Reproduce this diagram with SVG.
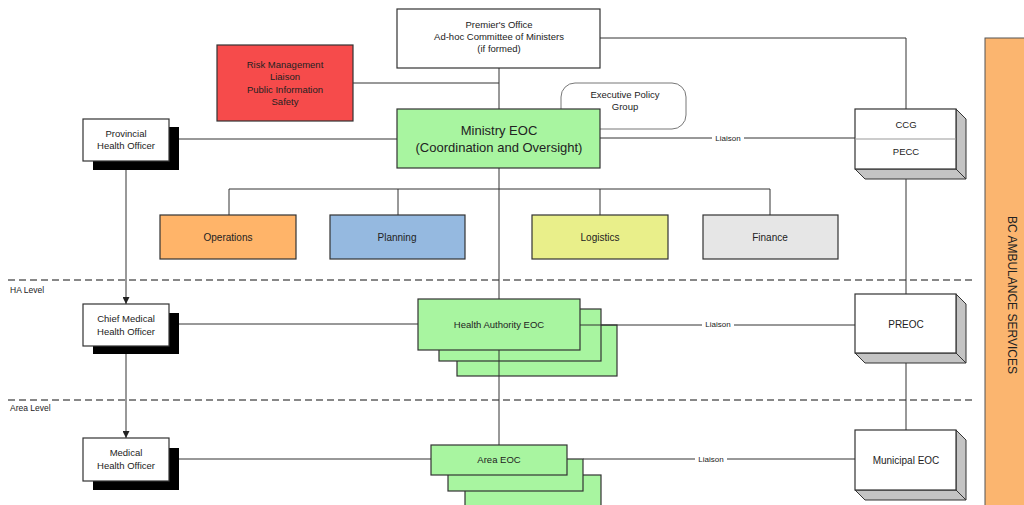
<svg xmlns="http://www.w3.org/2000/svg" width="1024" height="505" viewBox="0 0 1024 505">
<style>
text{font-family:"Liberation Sans",Arial,sans-serif;fill:#222;text-anchor:middle}
.t10{font-size:10px}
.t9{font-size:9.5px}
.t8{font-size:8px}
.box{stroke:#333;stroke-width:1.2}
.ln{stroke:#333;stroke-width:1;fill:none}
.dash{stroke:#111;stroke-width:1;stroke-dasharray:7 4;fill:none}
.side{fill:#c4c4c4;stroke:#333;stroke-width:1}
.grn{fill:#a8f5a0}
.lbl{fill:#fff}
</style>
<defs>
<marker id="arr" viewBox="0 0 10 10" refX="10" refY="5" markerWidth="7" markerHeight="7" orient="auto" markerUnits="userSpaceOnUse">
<path d="M0,0 L10,5 L0,10 z" fill="#222"/>
</marker>
</defs>
<rect width="1024" height="505" fill="#fff"/>

<g id="levels">
<line class="dash" x1="8" y1="280" x2="975" y2="280"/>
<line class="dash" x1="8" y1="400" x2="975" y2="400"/>
<text x="10" y="293" style="text-anchor:start;font-size:8.5px">HA  Level</text>
<text x="10" y="411" style="text-anchor:start;font-size:8.5px">Area Level</text>
</g>

<g id="connectors">
<polyline class="ln" points="600,38 906,38 906,109"/>
<line class="ln" x1="499" y1="68" x2="499" y2="299"/>
<line class="ln" x1="353" y1="83" x2="499" y2="83"/>
<line class="ln" x1="179" y1="139" x2="397" y2="139"/>
<line class="ln" x1="600" y1="138" x2="855" y2="138"/>
<polyline class="ln" points="229,215 229,189 770,189 770,215"/>
<line class="ln" x1="398" y1="189" x2="398" y2="215"/>
<line class="ln" x1="600" y1="189" x2="600" y2="215"/>
<line class="ln" x1="906" y1="169" x2="906" y2="294"/>
<line class="ln" x1="906" y1="353" x2="906" y2="430"/>
<line class="ln" x1="126" y1="170" x2="126" y2="304" marker-end="url(#arr)"/>
<line class="ln" x1="126" y1="354" x2="126" y2="438" marker-end="url(#arr)"/>
<line class="ln" x1="179" y1="324" x2="418" y2="324"/>
<line class="ln" x1="617" y1="325" x2="855" y2="325"/>
<line class="ln" x1="499" y1="376" x2="499" y2="445"/>
<line class="ln" x1="179" y1="459" x2="431" y2="459"/>
<line class="ln" x1="583" y1="459" x2="855" y2="459"/>
<rect class="lbl" x="712" y="133" width="32" height="10"/>
<text class="t8" x="728" y="141">Liaison</text>
<rect class="lbl" x="702" y="320" width="32" height="10"/>
<text class="t8" x="718" y="327">Liaison</text>
<rect class="lbl" x="695" y="454" width="32" height="10"/>
<text class="t8" x="711" y="462">Liaison</text>
</g>

<g id="premier">
<rect class="box" x="397" y="9" width="203" height="59" fill="#fff"/>
<text class="t9" x="499" y="28">Premier's Office</text>
<text class="t9" x="499" y="40">Ad-hoc Committee of Ministers</text>
<text class="t9" x="499" y="52">(if  formed)</text>
</g>

<g id="risk">
<rect class="box" x="217" y="45" width="136" height="76" fill="#f64b4b"/>
<text class="t9" x="285" y="68">Risk Management</text>
<text class="t9" x="285" y="80">Liaison</text>
<text class="t9" x="285" y="93">Public Information</text>
<text class="t9" x="285" y="105">Safety</text>
</g>

<g id="exec-policy">
<rect x="561" y="83" width="125" height="46" rx="14" fill="#fff" stroke="#777" stroke-width="1"/>
<text class="t9" x="625" y="98">Executive Policy</text>
<text class="t9" x="625" y="110">Group</text>
</g>

<g id="ministry">
<rect class="box grn" x="397" y="109" width="203" height="59"/>
<text x="499" y="135" style="font-size:13px">Ministry EOC</text>
<text x="499" y="152" style="font-size:13px">(Coordination and Oversight)</text>
</g>

<g id="operations">
<rect class="box" x="160" y="215" width="136" height="44" fill="#ffb469"/>
<text class="t10" x="228" y="241">Operations</text>
</g>
<g id="planning">
<rect class="box" x="330" y="215" width="135" height="44" fill="#95b9e0"/>
<text class="t10" x="397" y="241">Planning</text>
</g>
<g id="logistics">
<rect class="box" x="532" y="215" width="136" height="44" fill="#e9ef8a"/>
<text class="t10" x="600" y="241">Logistics</text>
</g>
<g id="finance">
<rect class="box" x="703" y="215" width="135" height="44" fill="#e6e6e6"/>
<text class="t10" x="770" y="241">Finance</text>
</g>

<g id="provincial">
<rect x="93" y="127" width="86" height="43" fill="#000"/>
<rect class="box" x="83" y="119" width="86" height="42" fill="#fff"/>
<text class="t9" x="126" y="137">Provincial</text>
<text class="t9" x="126" y="149">Health Officer</text>
</g>

<g id="chief-medical">
<rect x="93" y="313" width="86" height="41" fill="#000"/>
<rect class="box" x="83" y="304" width="86" height="42" fill="#fff"/>
<text class="t9" x="126" y="322">Chief Medical</text>
<text class="t9" x="126" y="335">Health Officer</text>
</g>

<g id="medical">
<rect x="93" y="448" width="86" height="42" fill="#000"/>
<rect class="box" x="83" y="438" width="86" height="43" fill="#fff"/>
<text class="t9" x="126" y="456">Medical</text>
<text class="t9" x="126" y="469">Health Officer</text>
</g>

<g id="ha-eoc">
<rect class="box grn" x="457" y="325" width="160" height="51"/>
<rect class="box grn" x="439" y="309" width="162" height="52"/>
<line class="ln" x1="499" y1="350" x2="499" y2="376"/>
<line class="ln" x1="580" y1="325" x2="617" y2="325"/>
<rect class="box grn" x="418" y="299" width="162" height="51"/>
<text class="t9" x="499" y="328">Health Authority EOC</text>
</g>

<g id="area-eoc">
<rect class="box grn" x="465" y="475" width="136" height="40"/>
<rect class="box grn" x="448" y="459" width="135" height="32"/>
<rect class="box grn" x="431" y="445" width="136" height="30"/>
<text class="t9" x="499" y="463">Area EOC</text>
</g>

<g id="ccg-pecc">
<polygon class="side" points="956,109 966,119 966,179 956,169"/>
<polygon class="side" points="855,169 865,179 966,179 956,169"/>
<rect class="box" x="855" y="109" width="101" height="60" fill="#fff"/>
<line x1="855" y1="139" x2="956" y2="139" stroke="#999" stroke-width="1"/>
<text class="t9" x="906" y="128">CCG</text>
<text class="t9" x="906" y="155">PECC</text>
</g>

<g id="preoc">
<polygon class="side" points="956,294 966,304 966,363 956,353"/>
<polygon class="side" points="855,353 865,363 966,363 956,353"/>
<rect class="box" x="855" y="294" width="101" height="59" fill="#fff"/>
<text class="t10" x="906" y="328">PREOC</text>
</g>

<g id="municipal">
<polygon class="side" points="956,430 966,440 966,500 956,490"/>
<polygon class="side" points="855,490 865,500 966,500 956,490"/>
<rect class="box" x="855" y="430" width="101" height="60" fill="#fff"/>
<text class="t10" x="906" y="464">Municipal EOC</text>
</g>

<g id="bc-ambulance">
<rect x="985" y="38" width="45" height="475" fill="#fbb56f" stroke="#555" stroke-width="1"/>
<text x="1008" y="295" transform="rotate(90 1008 295)" style="font-size:12px">BC AMBULANCE SERVICES</text>
</g>
</svg>
